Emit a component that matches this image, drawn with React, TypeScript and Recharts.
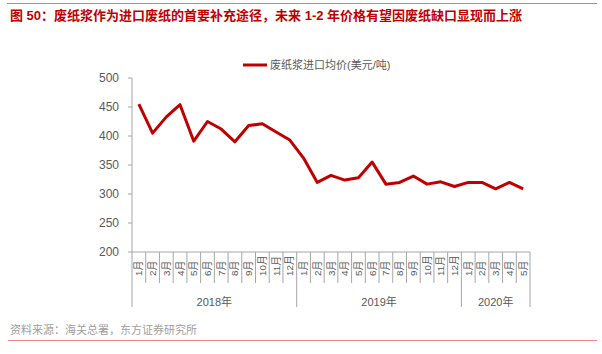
import React from 'react';
import { LineChart, Line, XAxis, YAxis } from 'recharts';

const months = [
  '1月', '2月', '3月', '4月', '5月', '6月', '7月', '8月', '9月', '10月', '11月', '12月',
  '1月', '2月', '3月', '4月', '5月', '6月', '7月', '8月', '9月', '10月', '11月', '12月',
  '1月', '2月', '3月', '4月', '5月',
];
const prices = [
  455, 405, 433, 454, 391, 425, 412, 390, 418, 421, 407, 393,
  362, 320, 332, 324, 328, 355, 317, 320, 331, 317, 321, 313,
  320, 320, 309, 320, 309,
];
const years = ['2018年', '2019年', '2020年'];
const yearMonthCounts = [12, 12, 5];
const yTicks = [200, 250, 300, 350, 400, 450, 500];
const seriesName = '废纸浆进口均价(美元/吨)';
const title = '图 50：废纸浆作为进口废纸的首要补充途径，未来 1-2 年价格有望因废纸缺口显现而上涨';
const source = '资料来源：海关总署，东方证券研究所';

const W = 602;
const H = 354;
const PLOT_LEFT = 132;
const PLOT_RIGHT = 530;
const PLOT_TOP = 78;
const PLOT_BOTTOM = 252;
const Y_AXIS_W = 60;
const X_AXIS_H = 60;
const BAND = (PLOT_RIGHT - PLOT_LEFT) / months.length;
const FONT = "'Liberation Sans', Arial, 'Noto Sans CJK SC', sans-serif";
const AXIS_COLOR = '#a6a6a6';
const TEXT_COLOR = '#595959';
const LINE_COLOR = '#c00000';

const data = months.map((m, i) => ({ idx: i, month: m, price: prices[i] }));

const yearStarts: number[] = [];
{
  let s = 0;
  for (const c of yearMonthCounts) {
    yearStarts.push(s);
    s += c;
  }
}

const MonthTick = (props: any) => {
  const { x, y, index } = props;
  const i = typeof index === 'number' ? index : props.payload.value;
  const els: React.ReactNode[] = [];
  const right = x + BAND / 2;
  const left = x - BAND / 2;
  const yearIdx = yearStarts.findIndex((s, k) => i >= s && i < s + yearMonthCounts[k]);
  const isYearEnd = yearIdx >= 0 && i === yearStarts[yearIdx] + yearMonthCounts[yearIdx] - 1;
  if (i === 0) {
    els.push(<line key="l0" x1={left} x2={left} y1={y} y2={y + 55} stroke={AXIS_COLOR} strokeWidth={1} />);
  }
  els.push(
    <line key="r" x1={right} x2={right} y1={y} y2={y + (isYearEnd ? 55 : 31)} stroke={AXIS_COLOR} strokeWidth={1} />
  );
  els.push(
    <text
      key="t"
      x={x}
      y={y + 24}
      transform={`rotate(-90 ${x} ${y + 24})`}
      textAnchor="start"
      dominantBaseline="central"
      fontSize={9.8}
      fontFamily={FONT}
      fill={TEXT_COLOR}
    >
      {months[i]}
    </text>
  );
  if (yearIdx >= 0 && i === yearStarts[yearIdx]) {
    const cx = x + (yearMonthCounts[yearIdx] / 2 - 0.5) * BAND;
    els.push(
      <text key="y" x={cx} y={y + 54} textAnchor="middle" fontSize={11} fontFamily={FONT} fill={TEXT_COLOR}>
        {years[yearIdx]}
      </text>
    );
  }
  return <g>{els}</g>;
};

export default function App() {
  return (
    <div style={{ position: 'absolute', left: 0, top: 0, width: W, height: H, background: '#fff', fontFamily: FONT }}>
      <div style={{ position: 'absolute', left: 7, top: 3, width: 590, height: 1, background: '#e07a7a' }} />
      <div
        style={{
          position: 'absolute',
          left: 10,
          top: 8,
          fontSize: 13,
          fontWeight: 'bold',
          color: LINE_COLOR,
          whiteSpace: 'nowrap',
          lineHeight: '16px',
        }}
      >
        {title}
      </div>
      <div style={{ position: 'absolute', left: 242, top: 58, display: 'flex', alignItems: 'center', whiteSpace: 'nowrap' }}>
        <svg width={26} height={10} style={{ display: 'block' }}>
          <line x1={1} x2={25} y1={5} y2={5} stroke={LINE_COLOR} strokeWidth={3} />
        </svg>
        <span style={{ fontSize: 11, color: TEXT_COLOR, marginLeft: 2, lineHeight: '14px' }}>{seriesName}</span>
      </div>
      <LineChart
        width={W}
        height={H}
        data={data}
        margin={{
          top: PLOT_TOP,
          right: W - PLOT_RIGHT,
          left: PLOT_LEFT - Y_AXIS_W,
          bottom: H - PLOT_BOTTOM - X_AXIS_H,
        }}
      >
        <XAxis
          dataKey="idx"
          type="category"
          scale="point"
          padding={{ left: BAND / 2, right: BAND / 2 }}
          interval={0}
          height={X_AXIS_H}
          tickLine={false}
          tickSize={0}
          tickMargin={0}
          axisLine={{ stroke: AXIS_COLOR }}
          tick={<MonthTick />}
        />
        <YAxis
          width={Y_AXIS_W}
          domain={[200, 500]}
          ticks={yTicks}
          allowDataOverflow
          axisLine={{ stroke: AXIS_COLOR }}
          tickLine={{ stroke: AXIS_COLOR }}
          tickSize={4}
          tickMargin={9}
          tick={{ fill: TEXT_COLOR, fontSize: 12, fontFamily: FONT }}
        />
        <Line
          type="linear"
          dataKey="price"
          stroke={LINE_COLOR}
          strokeWidth={3}
          dot={false}
          isAnimationActive={false}
          strokeLinejoin="round"
        />
      </LineChart>
      <div style={{ position: 'absolute', left: 10, top: 323, fontSize: 11, color: '#a0a0a0', whiteSpace: 'nowrap', lineHeight: '14px' }}>
        {source}
      </div>
      <div style={{ position: 'absolute', left: 8, top: 340, width: 589, height: 1, background: '#e88a8a' }} />
    </div>
  );
}
